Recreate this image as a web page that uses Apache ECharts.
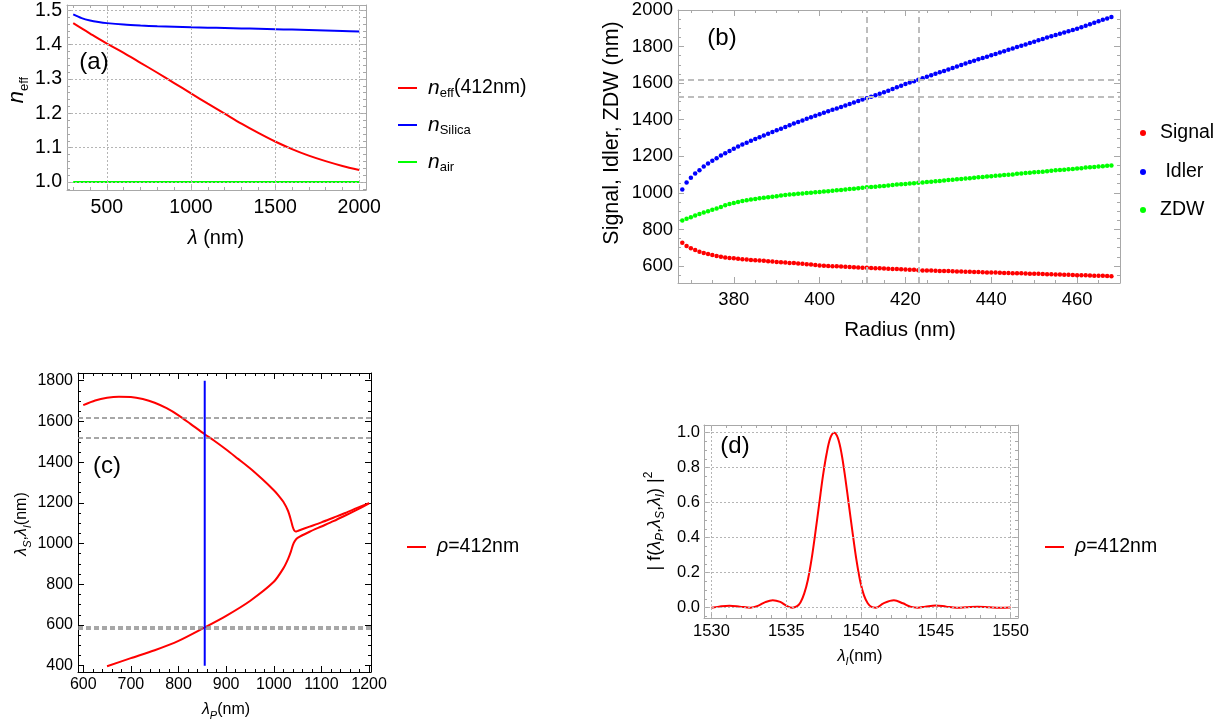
<!DOCTYPE html>
<html><head><meta charset="utf-8">
<script src="https://cdn.jsdelivr.net/npm/echarts@6/dist/echarts.min.js"></script>
<style>html,body{margin:0;padding:0;background:#fff}#c{width:1232px;height:726px}</style>
</head><body><div id="c"></div>
<script>
// ================= DATA =================
// Panel (a): refractive indices vs wavelength
const lambdaA = [300,350,400,450,500,600,700,800,900,1000,1100,1200,1300,1400,1500,1600,1700,1800,1900,2000];
const nEff412 = [1.462,1.447,1.432,1.417,1.403,1.376,1.347,1.318,1.288,1.258,1.228,1.199,1.170,1.143,1.118,1.096,1.077,1.061,1.047,1.035];
const nSilica = [1.4878,1.4770,1.4701,1.4656,1.4623,1.4580,1.4553,1.4533,1.4518,1.4504,1.4492,1.4481,1.4469,1.4458,1.4446,1.4434,1.4422,1.4409,1.4395,1.4381];
const nAir    = [1,1,1,1,1,1,1,1,1,1,1,1,1,1,1,1,1,1,1,1];
const xTicksA = [500,1000,1500,2000];
const yTicksA = [1.0,1.1,1.2,1.3,1.4,1.5];

// Panel (b): signal / idler / ZDW vs radius
const radiusB = [368,369,370,371,372,373,374,375,376,377,378,379,380,381,382,383,384,385,386,387,
 388,389,390,391,392,393,394,395,396,397,398,399,400,401,402,403,404,405,406,407,
 408,409,410,411,412,413,414,415,416,417,418,419,420,421,422,423,424,425,426,427,
 428,429,430,431,432,433,434,435,436,437,438,439,440,441,442,443,444,445,446,447,
 448,449,450,451,452,453,454,455,456,457,458,459,460,461,462,463,464,465,466,467,468];
const signalB = [727,709,697,687,678,671,665,660,655,651, 647,644,642,639,637,635,633,631,630,628,
 626,624,622,620,619,617,616,614,612,610, 608,606,603,601,600,599,598,597,596,594,
 593,592,591,590,589,588,587,586,585,584, 583,582,581,580,579,577,576,575,575,574,
 573,572,572,571,570,570,569,568,567,567, 566,565,565,564,563,562,562,561,560,560,
 559,558,557,557,556,555,555,554,553,552, 552,551,550,549,549,548,547,546,546,545, 544];
const idlerB = [1018,1057,1082,1106,1124,1144,1160,1175,1189,1204, 1217,1229,1241,1253,1264,1274,1285,1295,1304,1314,
 1323,1333,1342,1351,1360,1370,1379,1388,1396,1405, 1413,1422,1430,1438,1446,1454,1462,1470,1478,1486,
 1494,1502,1510,1518,1526,1534,1542,1550,1559,1568, 1577,1586,1595,1603,1611,1619,1627,1635,1643,1651,
 1659,1667,1675,1683,1691,1699,1707,1715,1722,1730, 1737,1745,1752,1760,1767,1775,1782,1790,1797,1805,
 1812,1820,1827,1834,1841,1849,1856,1863,1870,1877, 1884,1891,1898,1906,1914,1922,1930,1938,1946,1954, 1962];
const zdwB = [849,858,867,876,884,892,900,908,915,922, 932,939,945,950,955,959,963,966,970,973,
 976,979,982,985,988,991,993,995,997,999, 1001,1003,1005,1007,1009,1011,1014,1016,1018,1021,
 1023,1025,1028,1030,1032,1034,1036,1038,1040,1043, 1045,1047,1049,1051,1053,1055,1057,1059,1061,1063,
 1065,1068,1070,1072,1074,1076,1078,1080,1082,1085, 1087,1089,1091,1093,1095,1097,1099,1101,1104,1106,
 1108,1110,1112,1114,1116,1118,1121,1123,1125,1127, 1129,1131,1133,1135,1138,1140,1142,1144,1146,1148, 1150];
const radiusMarksB = [411,423];
const wlMarksB = [1620,1525];
const xTicksB = [380,400,420,440,460];
const yTicksB = [600,800,1000,1200,1400,1600,1800,2000];

// Panel (c): phase-matching curves vs pump wavelength
const pumpUpper  = [600,625,650,675,700,725,750,775,800,825,855,875,900,925,950,975,1000,1010,1020,1030,1036,1040,1043,1046,1050,1075,1100,1125,1150,1175,1200];
const idlerUpper = [1680,1703,1716,1721,1720,1710,1692,1665,1630,1588,1537,1505,1462,1416,1370,1318,1262,1236,1205,1160,1115,1080,1064,1059,1062,1083,1104,1127,1150,1175,1199];
const pumpLower   = [650,700,750,800,855,900,950,1000,1020,1030,1036,1040,1044,1050,1075,1100,1125,1150,1175,1200];
const signalLower = [397,437,476,522,588,645,718,812,878,925,962,992,1012,1028,1058,1084,1110,1138,1167,1197];
const pumpLineX = [855,855];
const pumpLineY = [400,1800];
const wlMarksC = [1620,1520,592,580];
const xTicksC = [600,700,800,900,1000,1100,1200];
const yTicksC = [400,600,800,1000,1200,1400,1600,1800];

// Panel (d): joint spectral intensity slice
const lambdaD = [1530,1530.5,1531.2,1531.9,1532.6,1533.1,1533.6,1534.1,1534.6,1535.0,1535.4,1535.7,1535.95,1536.2,1536.45,1536.7,1536.95,1537.2,1537.45,1537.7,1537.95,
 1538.2,1538.45,1538.7,1538.95,1539.2,1539.45,1539.7,1539.95,1540.2,1540.45,1540.7,1541.0,1541.5,1542.2,1542.8,1543.3,1543.8,1544.3,1545.0,1545.7,1546.4,1547.0,1547.8,1548.6,1549.3,1550.0];
const fD = [0.0,0.006,0.011,0.006,0.0,0.01,0.032,0.043,0.033,0.012,0.0,0.007,0.03,0.08,0.16,0.28,0.43,0.59,0.75,0.88,0.97,
 1.0,0.97,0.88,0.74,0.58,0.42,0.27,0.15,0.07,0.025,0.004,0.0,0.025,0.042,0.025,0.006,0.0,0.006,0.013,0.006,0.0,0.002,0.005,0.002,0.0,0.001];
const xTicksD = [1530,1535,1540,1545,1550];
const yTicksD = [0.0,0.2,0.4,0.6,0.8,1.0];

// ================= STYLE / LAYOUT =================
const FONT = "'Liberation Sans', Arial, Helvetica, sans-serif";
const GRAY = '#a8a8a8';
const RED = '#ff0000', BLUE = '#0000ff', GREEN = '#00ff00';

const panels = [
  {key:'a', grid:{left:67,top:5,width:299,height:185}, x:[263,2040], y:[0.977,1.515], xMaj:xTicksA, yMaj:yTicksA, xStep:100, yStep:0.02, frame:GRAY, fs:19.5, xm:8, ym:5, xDec:0, yDec:1},
  {key:'b', grid:{left:678,top:10,width:442,height:273}, x:[367,470], y:[507,2000], xMaj:xTicksB, yMaj:yTicksB, xStep:5, yStep:50, frame:GRAY, fs:18.5, xm:7, ym:5, xDec:0, yDec:0},
  {key:'c', grid:{left:78,top:373,width:293,height:299}, x:[589,1204], y:[369,1838], xMaj:xTicksC, yMaj:yTicksC, xStep:20, yStep:50, frame:'#000', fs:16, xm:5, ym:5, xDec:0, yDec:0},
  {key:'d', grid:{left:704,top:425,width:314,height:193}, x:[1529.5,1550.5], y:[-0.059,1.044], xMaj:xTicksD, yMaj:yTicksD, xStep:1, yStep:0.05, frame:GRAY, fs:16.5, xm:5, ym:4, xDec:0, yDec:1}
];

function minorVals(r, step, majors){
  const out=[]; const s=Math.ceil(r[0]/step-1e-9);
  for(let k=s; k*step<=r[1]+1e-9; k++){ const v=+(k*step).toFixed(6); if(!majors.some(m=>Math.abs(m-v)<1e-9)) out.push(v); }
  return out;
}
const fmt = d => v => d ? (+v).toFixed(d) : String(Math.round(v));

const xAxis=[], yAxis=[], grid=[], idx={};
panels.forEach((P,gi)=>{
  grid.push(Object.assign({containLabel:false}, P.grid));
  const xMin = minorVals(P.x,P.xStep,P.xMaj), yMin = minorVals(P.y,P.yStep,P.yMaj);
  idx[P.key] = {x:xAxis.length, y:yAxis.length};
  const line = show => ({show, onZero:false, lineStyle:{color:P.frame, width:1}});
  const tick = (vals,len) => ({show:true, inside:true, length:len, customValues:vals, lineStyle:{color:P.frame, width:1}});
  const xb = {type:'value', gridIndex:gi, min:P.x[0], max:P.x[1], splitLine:{show:false}};
  const yb = {type:'value', gridIndex:gi, min:P.y[0], max:P.y[1], splitLine:{show:false}};
  xAxis.push(Object.assign({}, xb, {position:'bottom', axisLine:line(true), axisTick:tick(P.xMaj,6),
    axisLabel:{show:true, customValues:P.xMaj, fontSize:P.fs, fontFamily:FONT, color:'#000', margin:P.xm, formatter:fmt(P.xDec)}}));
  xAxis.push(Object.assign({}, xb, {position:'bottom', axisLine:line(false), axisTick:tick(xMin,3), axisLabel:{show:false}}));
  xAxis.push(Object.assign({}, xb, {position:'top', axisLine:line(true), axisTick:tick(P.xMaj,6), axisLabel:{show:false}}));
  xAxis.push(Object.assign({}, xb, {position:'top', axisLine:line(false), axisTick:tick(xMin,3), axisLabel:{show:false}}));
  yAxis.push(Object.assign({}, yb, {position:'left', axisLine:line(true), axisTick:tick(P.yMaj,6),
    axisLabel:{show:true, customValues:P.yMaj, fontSize:P.fs, fontFamily:FONT, color:'#000', margin:P.ym, formatter:fmt(P.yDec)}}));
  yAxis.push(Object.assign({}, yb, {position:'left', axisLine:line(false), axisTick:tick(yMin,3), axisLabel:{show:false}}));
  yAxis.push(Object.assign({}, yb, {position:'right', axisLine:line(true), axisTick:tick(P.yMaj,6), axisLabel:{show:false}}));
  yAxis.push(Object.assign({}, yb, {position:'right', axisLine:line(false), axisTick:tick(yMin,3), axisLabel:{show:false}}));
});

const zip = (a,b) => a.map((v,i)=>[v,b[i]]);
const on = k => ({xAxisIndex:idx[k].x, yAxisIndex:idx[k].y});
const curve = (k,name,xs,ys,color,extra) => Object.assign({type:'line', name, data:zip(xs,ys), symbol:'none', showSymbol:false,
  smooth:0.3, lineStyle:{color, width:2}, itemStyle:{color}, z:3, animation:false}, on(k), extra||{});
let mk = 0;
const marks = (k, data, style) => Object.assign({type:'line', name:'_marks'+(mk++), data:[], silent:true, z:1,
  markLine:{symbol:['none','none'], silent:true, animation:false, label:{show:false}, emphasis:{disabled:true}, lineStyle:style, data}}, on(k));
const dots = (name, ys, color) => Object.assign({type:'scatter', name, data:zip(radiusB,ys), symbolSize:4.5,
  itemStyle:{color, opacity:1}, animation:false, z:3}, on('b'));

const dotted = {type:[2,2], color:'#b5b5b5', width:1};
const series = [
  marks('a', xTicksA.map(v=>({xAxis:v})).concat(yTicksA.map(v=>({yAxis:v}))), dotted),
  curve('a','neff',lambdaA,nEff412,RED),
  curve('a','nSilica',lambdaA,nSilica,BLUE),
  curve('a','nair',lambdaA,nAir,GREEN),

  marks('b', radiusMarksB.map(v=>({xAxis:v})).concat(wlMarksB.map(v=>({yAxis:v}))), {type:[6,4], color:'#bdbdbd', width:2}),
  dots('Signal', signalB, RED),
  dots('Idler', idlerB, BLUE),
  dots('ZDW', zdwB, GREEN),

  marks('c', wlMarksC.map(v=>({yAxis:v})), {type:[5,3], color:'#8a8a8a', width:1.5}),
  curve('c','rho412',pumpUpper,idlerUpper,RED,{smooth:0.25}),
  curve('c','rho412',pumpLower,signalLower,RED,{smooth:0.25}),
  curve('c','pump',pumpLineX,pumpLineY,BLUE,{smooth:false, z:4}),

  marks('d', xTicksD.map(v=>({xAxis:v})).concat(yTicksD.map(v=>({yAxis:v}))), dotted),
  curve('d','rho412',lambdaD,fD,RED,{smooth:0.35})
];

// ---------- legends ----------
const base = (fs) => ({fontFamily:FONT, color:'#000', fontSize:fs, lineHeight:24});
function legend(name, left, cy, icon, iw, ih, text, fs, rich){
  return {show:true, data:[{name, icon}], left, top:cy-12, padding:0, orient:'vertical', itemWidth:iw, itemHeight:ih,
    selectedMode:false, formatter:()=>text, textStyle:Object.assign(base(fs), {rich})};
}
const richA = g => ({
  g:{width:g, fontSize:10, lineHeight:24},
  i:{fontStyle:'italic', fontSize:21, fontFamily:FONT, color:'#000', lineHeight:24},
  s:{fontSize:13, fontFamily:FONT, color:'#000', lineHeight:14, verticalAlign:'bottom'},
  t:{fontSize:19.5, fontFamily:FONT, color:'#000', lineHeight:24}
});
const richR = {
  g:{width:6, fontSize:10, lineHeight:24},
  i:{fontStyle:'italic', fontSize:19.5, fontFamily:FONT, color:'#000', lineHeight:24},
  t:{fontSize:19.5, fontFamily:FONT, color:'#000', lineHeight:24}
};
const richB = {
  g:{width:9, fontSize:10, lineHeight:24},
  t:{fontSize:19.5, fontFamily:FONT, color:'#000', lineHeight:24}
};
const legends = [
  legend('neff', 398, 88, 'rect', 19, 2, '{g| }{i|n}{s|eff}{t|(412nm)}', 19.5, richA(6)),
  legend('nSilica', 398, 125, 'rect', 19, 2, '{g| }{i|n}{s|Silica}', 19.5, richA(6)),
  legend('nair', 398, 162, 'rect', 19, 2, '{g| }{i|n}{s|air}', 19.5, richA(6)),
  legend('Signal', 1140, 133, 'circle', 6, 6, '{g| }{t|Signal}', 19.5, richB),
  legend('Idler', 1140, 172, 'circle', 6, 6, '{g| }{t| Idler}', 19.5, richB),
  legend('ZDW', 1140, 210, 'circle', 6, 6, '{g| }{t|ZDW}', 19.5, richB),
  legend('rho412', 407, 547, 'rect', 19, 2, '{g| }{i|ρ}{t|=412nm}', 19.5, richR),
  legend('rho412', 1045, 547, 'rect', 19, 2, '{g| }{i|ρ}{t|=412nm}', 19.5, richR)
];

// ---------- titles (graphic text) ----------
function txt(x, y, text, fs, rich, rot){
  return {type:'text', x, y, rotation:rot||0, silent:true, z:10,
    style:{text, fontSize:fs, fontFamily:FONT, fill:'#000', align:'center', verticalAlign:'middle', rich:rich||{}}};
}
const rt = (fs, sub) => ({
  i:{fontStyle:'italic', fontSize:fs, fontFamily:FONT, fill:'#000', lineHeight:fs+6},
  t:{fontSize:fs, fontFamily:FONT, fill:'#000', lineHeight:fs+6},
  s:{fontSize:sub, fontFamily:FONT, fill:'#000', lineHeight:sub+1, verticalAlign:'bottom'},
  si:{fontSize:sub, fontStyle:'italic', fontFamily:FONT, fill:'#000', lineHeight:sub+1, verticalAlign:'bottom'},
  p:{fontSize:sub, fontFamily:FONT, fill:'#000', lineHeight:sub+1, verticalAlign:'top'}
});
const graphics = [
  txt(94, 62, '(a)', 24), txt(722, 38, '(b)', 24), txt(107, 466, '(c)', 24), txt(735, 446, '(d)', 24),
  txt(17, 90, '{i|n}{s|eff}', 22, rt(22,13), Math.PI/2),
  txt(216, 238, '{i|λ}{t| (nm)}', 20, rt(20,13)),
  txt(612, 133, 'Signal, Idler, ZDW (nm)', 21.5, null, Math.PI/2),
  txt(900, 330, 'Radius (nm)', 20.5),
  txt(22, 524, '{i|λ}{si|S}{t|,}{i|λ}{si|I}{t|(nm)}', 16, rt(16,11), Math.PI/2),
  txt(226, 710, '{i|λ}{si|P}{t|(nm)}', 16, rt(16,11)),
  txt(655, 521, '{t|| f(}{i|λ}{si|P}{t|,}{i|λ}{si|S}{t|,}{i|λ}{si|I}{t|) |}{p|2}', 18, rt(18,12), Math.PI/2),
  txt(860, 656, '{i|λ}{si|I}{t|(nm)}', 16.5, rt(16.5,11))
];

const chart = echarts.init(document.getElementById('c'), null, {renderer:'canvas'});
chart.setOption({
  backgroundColor:'#fff', animation:false,
  grid, xAxis, yAxis, series, legend:legends, graphic:graphics,
  tooltip:{show:false}
});
</script></body></html>
